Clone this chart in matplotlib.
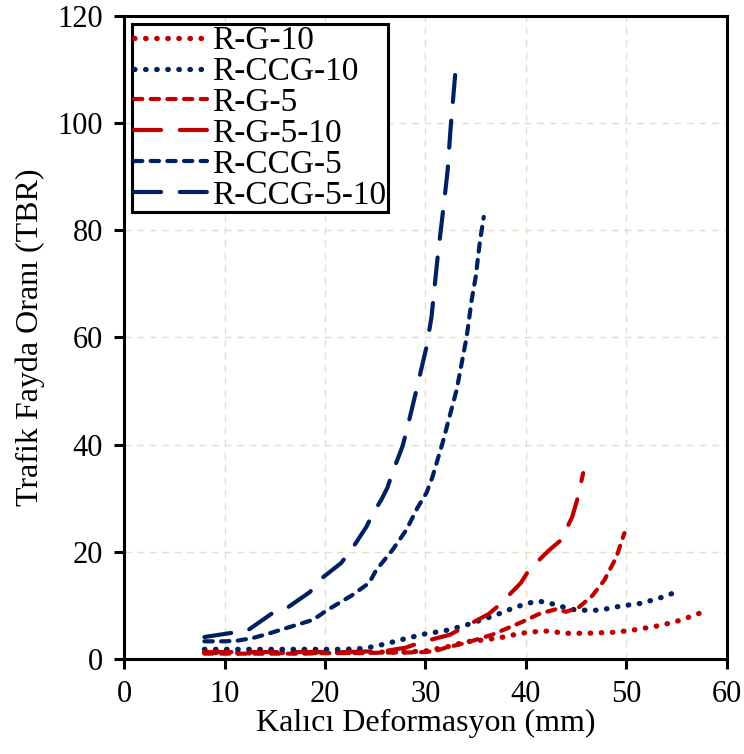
import matplotlib.pyplot as plt

plt.rcParams['font.family'] = ['Liberation Serif', 'DejaVu Serif']

# R-G-10
x_g10 = [8, 10, 12, 14, 16, 18, 20, 22, 24, 26, 28, 30, 32, 34, 36, 37.5, 39.5, 41.5, 42.6, 43.6, 46, 49, 51, 53.5, 55.5, 57.8]
y_g10 = [1.2, 1.2, 1.1, 1.2, 1.2, 1.2, 1.2, 1.2, 1.2, 1.3, 1.3, 1.5, 2.2, 3.2, 3.6, 4.0, 4.8, 5.2, 5.2, 4.8, 4.8, 5.0, 5.5, 6.3, 7.3, 8.9]
# R-CCG-10
x_ccg10 = [8, 10, 12, 14, 16, 18, 20, 22, 24, 26, 28, 30, 32, 34, 37, 39, 41, 42.1, 43.1, 45, 47.3, 49.5, 51.5, 53.7, 54.8]
y_ccg10 = [1.8, 1.8, 1.8, 1.8, 1.8, 1.8, 1.8, 1.8, 2.0, 2.8, 3.8, 4.7, 5.3, 6.3, 8.2, 9.7, 10.8, 10.6, 10.0, 9.1, 9.1, 9.9, 10.4, 11.6, 12.4]
# R-G-5
x_g5 = [8, 10, 12, 14, 16, 18, 20, 22, 24, 26, 28, 30, 31, 32, 34, 36.6, 39.6, 41.3, 43, 44, 45.3, 46.6, 47.8, 49, 49.8]
y_g5 = [1.0, 1.0, 1.0, 1.0, 1.0, 1.0, 1.1, 1.1, 1.1, 1.2, 1.2, 1.3, 1.5, 2.1, 3.0, 4.5, 6.9, 8.4, 9.3, 8.8, 9.7, 11.8, 14.7, 19, 23.5]
# R-G-5-10
x_g510 = [8, 10, 12, 14, 16, 18, 20, 22, 24, 26, 28, 29.7, 32.4, 33.7, 36.3, 37.3, 39.5, 40.3, 42.3, 43.5, 44.6, 45.1, 45.7]
y_g510 = [1.3, 1.3, 1.3, 1.3, 1.3, 1.3, 1.3, 1.3, 1.4, 1.5, 2.1, 3.2, 4.5, 5.8, 8.4, 10, 14.2, 16.6, 20.3, 22.2, 26.5, 29.7, 34.7]
# R-CCG-5
x_ccg5 = [8, 10, 11.2, 12.8, 14.5, 16.2, 18.8, 20.2, 22.7, 24.4, 25.1, 26.7, 28.1, 29.2, 30.1, 30.7, 31.7, 33.1, 34.1, 34.6, 35.0, 35.4, 35.8]
y_ccg5 = [3.3, 3.3, 3.4, 3.9, 4.8, 5.8, 7.3, 9.1, 11.9, 14.2, 16.6, 20.3, 24.1, 28.2, 31, 34, 40.3, 50.2, 60.1, 67, 71.3, 77.6, 82.5]
# R-CCG-5-10
x_ccg510 = [8, 10.8, 12.2, 14.8, 16.2, 18.5, 19.7, 21.6, 22.6, 24.1, 24.8, 25.6, 26.2, 26.7, 27.7, 28.1, 29.1, 30.1, 30.6, 31.2, 31.7, 32.2, 32.5, 33]
y_ccg510 = [4.1, 4.9, 5.2, 8.6, 9.5, 12.5, 15.1, 17.9, 20.3, 24.6, 27.2, 29.7, 31.9, 34.7, 39.6, 42.4, 50.2, 58.2, 63.8, 74.8, 82.8, 91, 99, 110]

red = '#C00000'
navy = '#002060'
dot = (0, (0.1, 2.0))
short = (0, (2, 2))
long_ = (0, (6.5, 4.5))

fig = plt.figure(figsize=(7.44, 7.54), dpi=100)
ax = fig.add_axes([0.1667, 0.126, 0.8103, 0.8528])

kw = dict(lw=3.0, dash_capstyle='round', solid_capstyle='round')
kd = dict(lw=3.8, dash_capstyle='round', solid_capstyle='round')
ax.plot(x_g10, y_g10, color=red, ls=dot, label='R-G-10', **kd)
ax.plot(x_ccg10, y_ccg10, color=navy, ls=dot, label='R-CCG-10', **kd)
ax.plot(x_g5, y_g5, color=red, ls=short, label='R-G-5', **kw)
ax.plot(x_g510, y_g510, color=red, ls=long_, label='R-G-5-10', **kw)
ax.plot(x_ccg5, y_ccg5, color=navy, ls=short, label='R-CCG-5', **kw)
ax.plot(x_ccg510, y_ccg510, color=navy, ls=long_, label='R-CCG-5-10', **kw)

ax.set_xlim(0, 60)
ax.set_ylim(0, 120)
ax.set_xticks(range(0, 61, 10))
ax.set_yticks(range(0, 121, 20))
ax.grid(True, color='#e3dfcc', ls=(0, (5, 4)), lw=1.0)
ax.set_axisbelow(True)
for s in ax.spines.values():
    s.set_linewidth(2.2)
    s.set_color('black')
ax.tick_params(direction='out', length=7, width=2.2, labelsize=22, pad=8)

ax.set_xlabel('Kalıcı Deformasyon (mm)', fontsize=23, labelpad=0)
ax.set_ylabel('Trafik Fayda Oranı (TBR)', fontsize=23, labelpad=9)

leg = ax.legend(loc='upper left', fontsize=24, handlelength=2.2, handletextpad=0.15,
                labelspacing=0.01, borderpad=0.05, borderaxespad=0.25,
                fancybox=False, framealpha=1, edgecolor='black')
leg.get_frame().set_linewidth(2.2)

fig.savefig('out.png', dpi=100)
